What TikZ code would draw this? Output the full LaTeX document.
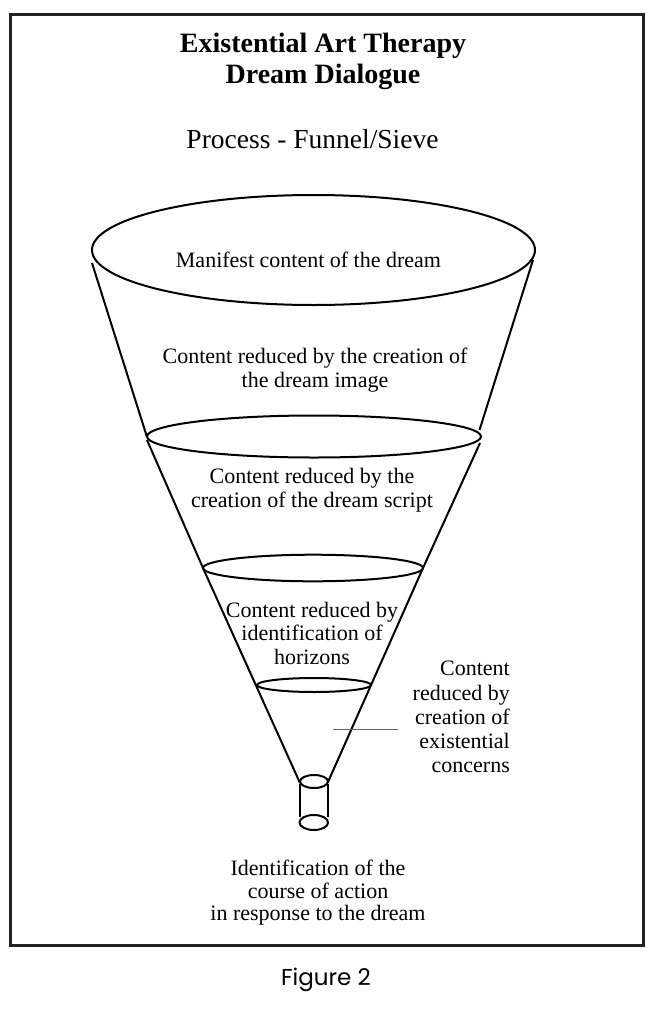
\documentclass[tikz,border=0pt]{standalone}
\usepackage{fontspec}
\setmainfont{Liberation Serif}
\newfontfamily\figfont{Poppins}
\begin{document}
\begin{tikzpicture}[x=1pt,y=-1pt,
  funnel/.style={line width=2pt, black},
  frameline/.style={line width=3pt, draw=black!87},
  lbl/.style={inner sep=0pt, align=center, text=black},
  txt/.style={font=\fontsize{22}{24}\selectfont},
  leader/.style={line width=0.9pt, draw=black!60}]
\useasboundingbox (0,0) rectangle (672,1018);
\draw[frameline] (10,14) rectangle (643.5,945);

% title texts
\node[lbl, anchor=north, font=\fontsize{28}{31}\bfseries\selectfont] (title) at (323,33)
  {Existential Art Therapy\\Dream Dialogue};
\node[lbl, anchor=base, font=\fontsize{27.5}{30}\selectfont] (process) at (312.5,148)
  {Process - Funnel/Sieve};

% funnel rims
\draw[funnel] (313.5,250) ellipse [x radius=221.5pt, y radius=55pt];
\draw[funnel] (314,436.5) ellipse [x radius=167pt, y radius=21pt];
\draw[funnel] (313,568) ellipse [x radius=110pt, y radius=13.3pt];
\draw[funnel] (314,685) ellipse [x radius=57pt, y radius=7pt];
% funnel walls
\draw[funnel] (92,263) -- (147,437);
\draw[funnel] (533,260) -- (479.5,430);
\draw[funnel] (147,440) -- (203,568);
\draw[funnel] (480,443) -- (423,568);
\draw[funnel] (203,568) -- (300,783);
\draw[funnel] (423,568) -- (328,782);
% spout
\draw[funnel] (314,781.5) ellipse [x radius=14pt, y radius=6.5pt];
\draw[funnel] (300,784) -- (300,817);
\draw[funnel] (328,784) -- (328,817);
\draw[funnel] (313.8,822.5) ellipse [x radius=14.3pt, y radius=7.5pt];

% labels inside the funnel
\node[lbl, txt, anchor=base] (manifest) at (308.5,267) {Manifest content of the dream};
\node[lbl, txt, anchor=north] (image) at (315,348)
  {Content reduced by the creation of\\the dream image};
\node[lbl, txt, anchor=north] (script) at (312,468)
  {Content reduced by the\\creation of the dream script};
\node[lbl, anchor=north, font=\fontsize{22}{23.3}\selectfont] (horizons) at (312,602)
  {Content reduced by\\identification of\\horizons};
\node[lbl, anchor=north east, align=right, font=\fontsize{22}{24.3}\selectfont] (concerns) at (510,661)
  {Content\\reduced by\\creation of\\existential\\concerns};
\coordinate (leadA) at (333,729);
\coordinate (leadB) at (398,729);
\draw[leader] (leadA) -- (leadB);

\node[lbl, anchor=north, font=\fontsize{22}{22.5}\selectfont] (action) at (318,860)
  {Identification of the\\course of action\\in response to the dream};

\node[lbl, anchor=base, font=\figfont\fontsize{23}{27}\selectfont] (fig) at (326,985) {Figure 2};
\end{tikzpicture}
\end{document}
